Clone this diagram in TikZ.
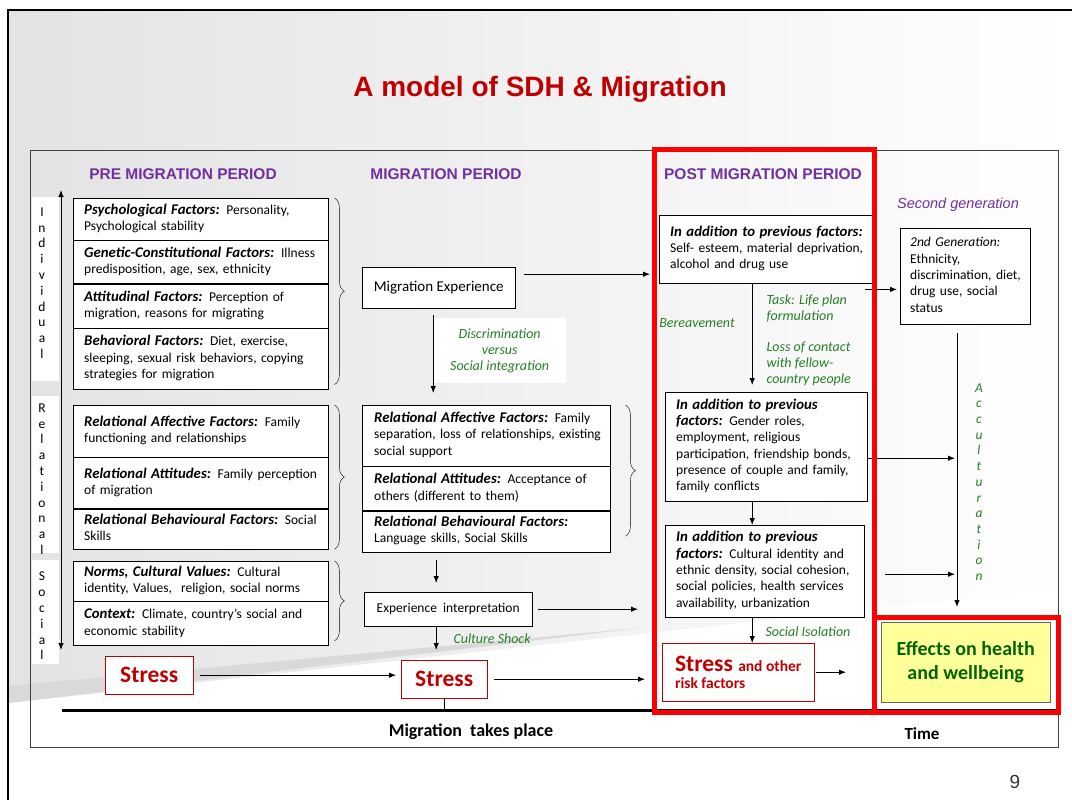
\documentclass[tikz,border=0pt]{standalone}
\usepackage{fontspec}
\setmainfont{Carlito}
\newfontfamily\arialfont{Liberation Sans}
\usepackage{tikz}
\usetikzlibrary{positioning,arrows.meta,decorations.pathreplacing}
\definecolor{sdhred}{HTML}{C00000}
\definecolor{sdhpurple}{HTML}{7030A0}
\definecolor{sdhgreen}{HTML}{267F26}
\definecolor{sdhdarkgreen}{HTML}{006400}
\definecolor{framered}{HTML}{FF0000}
\definecolor{sdhyellow}{HTML}{FFFF99}
% bold italic factor names, and left aligned lines of a box
\newcommand{\factorname}[1]{{\bfseries\itshape\fontsize{14.8}{16.3}\selectfont #1}}
\newcommand{\factorlines}[1]{\begin{tabular}{@{}l@{}}#1\end{tabular}}

\begin{document}
\begin{tikzpicture}[x=1pt, y=-1pt, >={Latex[length=7pt,width=5.5pt]}, font=\fontsize{13.5}{16.3}\selectfont]
	% Define styles for boxes
	\tikzset{
		box/.style={
			rectangle,
			draw,
			fill=white,
			align=center,
			inner sep=3pt,
			anchor=north west
		},
		factor/.style={
			box,
			align=left,
			inner xsep=11pt
		},
		prebox/.style={factor, text width=233pt},
		migbox/.style={factor, inner xsep=12pt, text width=224pt},
		stressbox/.style={
			rectangle,
			draw=sdhred,
			fill=white,
			text=sdhred,
			anchor=north west,
			font=\fontsize{23.5}{26}\selectfont\bfseries
		},
		period/.style={font=\arialfont\bfseries\fontsize{15.5}{18}\selectfont, text=sdhpurple},
		note/.style={font=\itshape\fontsize{14}{16}\selectfont, text=sdhgreen, align=left},
		stack/.style={align=center, font=\fontsize{13.5}{15.8}\selectfont},
		bracket/.style={decorate, decoration={brace, amplitude=10pt}},
		link/.style={->, line width=0.9pt}
	}
	\useasboundingbox (0,0) rectangle (1072,800);
	
	% Slide background and frames
	\fill[white] (0,0) rectangle (1072,800);
	\shade[left color=black!11, right color=white] (8,10) -- (1072,10) -- (1072,587) -- (8,703) -- cycle;
	\fill[black!15] (8,686) -- (640,628) -- (8,703) -- cycle;
	\draw[line width=2pt] (8,800) -- (8,10) -- (1072,10);
	\draw[black!75, line width=0.8pt] (30,150) rectangle (1058,747);
	
	% Title and period headings
	\node[font=\arialfont\bfseries\fontsize{28}{32}\selectfont, text=sdhred] (title) at (540,89) {A model of SDH \& Migration};
	\node[period] (prehead) at (183,174) {PRE MIGRATION PERIOD};
	\node[period] (mighead) at (446,174) {MIGRATION PERIOD};
	\node[period] (posthead) at (763,174) {POST MIGRATION PERIOD};
	\node[font=\arialfont\itshape\fontsize{14.5}{17}\selectfont, text=sdhpurple] (secondgen) at (958,205) {Second generation};
	
	% Individual / Relational / Social axis
	\fill[white] (32,197) rectangle (59,381);
	\fill[white] (32,396) rectangle (59,553);
	\fill[white] (32,560) rectangle (59,664);
	\node[stack] (individual) at (42,283) {I\\n\\d\\i\\v\\i\\d\\u\\a\\l};
	\node[stack] (relational) at (42,479) {R\\e\\l\\a\\t\\i\\o\\n\\a\\l};
	\node[stack] (social) at (42,616) {S\\o\\c\\i\\a\\l};
	\coordinate (axistop) at (61,190);
	\coordinate (axisbottom) at (61,650);
	\draw[<->, line width=1pt] (axistop) -- (axisbottom);
	
	% Nodes for pre migration period
	\node[prebox, minimum height=42pt] (psych) at (73,198) {\factorlines{\factorname{Psychological Factors:} Personality,\\Psychological stability}};
	\node[prebox, minimum height=43pt, below=0pt of psych] (genetic) {\factorlines{\factorname{Genetic-Constitutional Factors:} Illness\\predisposition, age, sex, ethnicity}};
	\node[prebox, minimum height=44pt, below=0pt of genetic] (attitude) {\factorlines{\factorname{Attitudinal Factors:} Perception of\\migration, reasons for migrating}};
	\node[prebox, minimum height=61pt, below=0pt of attitude] (behaviour) {\factorlines{\factorname{Behavioral Factors:} Diet, exercise,\\sleeping, sexual risk behaviors, copying\\strategies for migration}};
	
	\node[prebox, minimum height=52pt] (praffect) at (73,405) {\factorlines{\factorname{Relational Affective Factors:} Family\\functioning and relationships}};
	\node[prebox, minimum height=51pt, below=0pt of praffect] (prattitude) {\factorlines{\factorname{Relational Attitudes:} Family perception\\of migration}};
	\node[prebox, minimum height=40pt, below=0pt of prattitude] (prbehaviour) {\factorlines{\factorname{Relational Behavioural Factors:} Social\\Skills}};
	
	\node[prebox, minimum height=40pt] (norms) at (73,561) {\factorlines{\factorname{Norms, Cultural Values:} Cultural\\identity, Values,\ \ religion, social norms}};
	\node[prebox, minimum height=44pt, below=0pt of norms] (context) {\factorlines{\factorname{Context:} Climate, country’s social and\\economic stability}};
	
	% braces
	\draw[bracket] ([xshift=6pt]psych.north east) -- ([xshift=6pt,yshift=5pt]behaviour.south east);
	\draw[bracket] ([xshift=6pt]praffect.north east) -- ([xshift=6pt]prbehaviour.south east);
	\draw[bracket] ([xshift=6pt]norms.north east) -- ([xshift=6pt,yshift=5pt]context.south east);
	
	% Nodes for migration period
	\node[box, minimum width=153pt, minimum height=41pt, font=\fontsize{15}{18}\selectfont] (migexp) at (362,267) {Migration Experience};
	\node[note, align=center, fill=white, minimum width=133pt, minimum height=65pt, anchor=north west] (discrim) at (433,318) {Discrimination\\versus\\Social integration};
	
	\node[migbox, minimum height=61pt] (mraffect) at (362,405) {\factorlines{\factorname{Relational Affective Factors:} Family\\separation, loss of relationships, existing\\social support}};
	\node[migbox, minimum height=44pt, below=0pt of mraffect] (mrattitude) {\factorlines{\factorname{Relational Attitudes:} Acceptance of\\others (different to them)}};
	\node[migbox, minimum height=41pt, below=0pt of mrattitude] (mrbehaviour) {\factorlines{\factorname{Relational Behavioural Factors:}\\Language skills, Social Skills}};
	\draw[bracket] ([xshift=15pt]mraffect.north east) -- ([xshift=15pt,yshift=16pt]mrbehaviour.south east);
	
	\node[box, minimum width=168pt, minimum height=34pt] (interp) at (364,592) {Experience\ \ interpretation};
	\node[note, anchor=west] (cultureshock) at (450,639) {Culture Shock};
	
	% Stress boxes
	\node[stressbox, minimum width=88pt, minimum height=38pt] (stressleft) at (105,656) {Stress};
	\node[stressbox, minimum width=86pt, minimum height=38pt] (stressmid) at (401,660) {Stress};
	
	% Nodes for post migration period
	\node[factor, text width=192pt, minimum height=68pt] (post1) at (659,215) {\factorlines{\factorname{In addition to previous factors:}\\Self- esteem, material deprivation,\\alcohol and drug use}};
	\node[factor, text width=180pt, minimum height=109pt] (post2) at (665,392) {\factorlines{\factorname{In addition to previous}\\\factorname{factors:} Gender roles,\\employment, religious\\participation, friendship bonds,\\presence of couple and family,\\family conflicts}};
	\node[factor, text width=177pt, minimum height=92pt] (post3) at (665,525) {\factorlines{\factorname{In addition to previous}\\\factorname{factors:} Cultural identity and\\ethnic density, social cohesion,\\social policies, health services\\availability, urbanization}};
	\node[stressbox, align=left, minimum width=152pt, minimum height=58pt, font=\fontsize{23.5}{17}\selectfont\bfseries] (stressother) at (662,643) {Stress {\fontsize{15.5}{17}\selectfont and other}\\{\fontsize{15.5}{17}\selectfont risk factors}};
	
	\node[note, anchor=center] (bereave) at (697,323) {Bereavement};
	\node[note, anchor=north west] (lifeplan) at (763,291) {Task: Life plan\\formulation};
	\node[note, anchor=north west] (losscontact) at (763,338) {Loss of contact\\with fellow-\\country people};
	\node[note, anchor=center] (isolation) at (808,632) {Social Isolation};
	
	% Second generation and outcome
	\node[factor, inner xsep=10pt, text width=110pt, minimum height=96pt] (gen2) at (900,228) {\factorlines{\textit{2nd Generation:}\\Ethnicity,\\discrimination, diet,\\drug use, social\\status}};
	\node[box, draw=black!60, fill=sdhyellow, text=sdhdarkgreen, minimum width=169pt, minimum height=80pt, font=\bfseries\fontsize{20}{24}\selectfont] (effects) at (881,622) {Effects on health\\and wellbeing};
	\node[note, align=center, font=\itshape\fontsize{13.5}{15.7}\selectfont] (accult) at (979,482) {A\\c\\c\\u\\l\\t\\u\\r\\a\\t\\i\\o\\n};
	\coordinate (acctop) at (957,333);
	
	% Time line
	\coordinate (timestart) at (62,710);
	\coordinate (timeend) at (1056,710);
	\draw[line width=3pt] (timestart) -- (timeend);
	\draw (stressmid.south) -- (stressmid.south |- timestart);
	\node[font=\bfseries\fontsize{18}{21}\selectfont] (migplace) at (471,732) {Migration\ \ takes place};
	\node[font=\bfseries\fontsize{17}{20}\selectfont] (time) at (922,734) {Time};
	\node[font=\arialfont\fontsize{19}{22}\selectfont, text=black!80] (pagenum) at (1015,782) {9};
	
	% Arrows for migration period
	\draw[link, shorten <=9pt, shorten >=9pt] ([yshift=13.5pt]migexp.east) -- ([yshift=13.5pt]migexp.east -| post1.west);
	\draw[link, shorten <=7pt, shorten >=12pt] ([xshift=-5.5pt]migexp.south) -- ([xshift=-5.5pt]migexp.south |- mraffect.north);
	\draw[link, shorten <=8pt, shorten >=9pt] ([xshift=-12pt]interp.north |- mrbehaviour.south) -- ([xshift=-12pt]interp.north);
	\draw[link, shorten >=10pt] ([xshift=-8pt]stressmid.north |- interp.south) -- ([xshift=-8pt]stressmid.north);
	\draw[link, shorten <=6pt, shorten >=27pt] (interp.east) -- (interp.east -| post3.west);
	\draw[link, shorten <=7pt, shorten >=5pt] (stressleft.east) -- (stressleft.east -| stressmid.west);
	\draw[link, shorten <=7pt, shorten >=17pt] (stressmid.east) -- (stressmid.east -| stressother.west);
	
	% Arrows for post migration period
	\draw[link, shorten >=7pt] ([xshift=-14pt]post1.south) -- ([xshift=-14pt]post2.north);
	\draw[link] ([xshift=-14pt]post2.south) -- ([xshift=-14pt]post2.south |- post3.north);
	\draw[link] ([xshift=-12.5pt]post3.south) -- ([xshift=-12.5pt]post3.south |- stressother.north);
	\draw[link, shorten <=2pt, shorten >=35pt] (stressother.east) -- (stressother.east -| effects.west);
	\draw[link, shorten <=-8pt, shorten >=3pt] ([yshift=-6pt]post1.south east) -- ([yshift=-6pt]post1.south east -| gen2.west);
	\draw[link, shorten >=2pt] ([yshift=-11.5pt]post2.east) -- ([yshift=-11.5pt]post2.east -| acctop);
	\draw[link, shorten <=21pt, shorten >=2pt] ([yshift=-3pt]post3.east) -- ([yshift=-3pt]post3.east -| acctop);
	\draw[link, shorten >=15pt] (acctop) -- (acctop |- effects.north);
	
	% Red frames round post migration period and outcome
	\draw[framered, line width=5pt] (654,149) rectangle (874,712);
	\draw[framered, line width=5pt] (874,617) rectangle (1058,712);
\end{tikzpicture}
\end{document}
